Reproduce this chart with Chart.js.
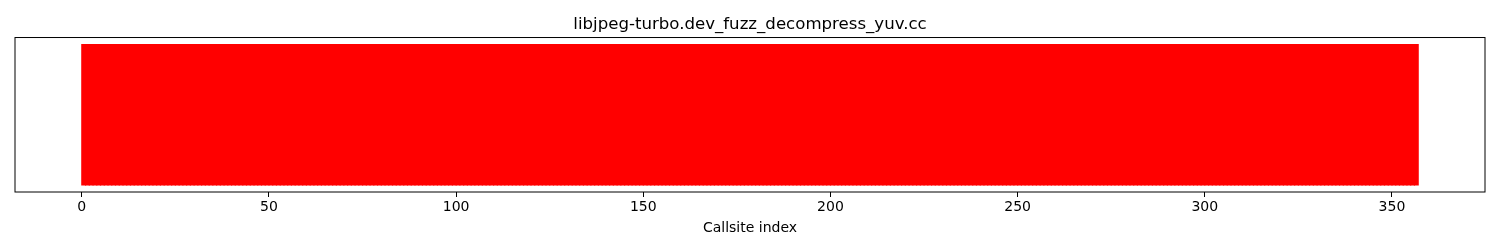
<!DOCTYPE html>
<html>
<head>
<meta charset="utf-8">
<script src="https://cdn.jsdelivr.net/npm/chart.js@4/dist/chart.umd.min.js"></script>
<style>
  html, body { margin: 0; padding: 0; background: #fff; }
  #wrap { width: 1500px; height: 250px; }
</style>
</head>
<body>
<div id="wrap"><canvas id="chart" width="1500" height="250"></canvas></div>
<script>
// one entry per callsite: 1 = reached
var reached = [
  1,1,1,1,1,1,1,1,1,1,1,1,1,1,1,1,1,1,1,1,1,1,1,1,1,1,1,1,1,1,1,1,1,1,1,1,1,1,1,1,
  1,1,1,1,1,1,1,1,1,1,1,1,1,1,1,1,1,1,1,1,1,1,1,1,1,1,1,1,1,1,1,1,1,1,1,1,1,1,1,1,
  1,1,1,1,1,1,1,1,1,1,1,1,1,1,1,1,1,1,1,1,1,1,1,1,1,1,1,1,1,1,1,1,1,1,1,1,1,1,1,1,
  1,1,1,1,1,1,1,1,1,1,1,1,1,1,1,1,1,1,1,1,1,1,1,1,1,1,1,1,1,1,1,1,1,1,1,1,1,1,1,1,
  1,1,1,1,1,1,1,1,1,1,1,1,1,1,1,1,1,1,1,1,1,1,1,1,1,1,1,1,1,1,1,1,1,1,1,1,1,1,1,1,
  1,1,1,1,1,1,1,1,1,1,1,1,1,1,1,1,1,1,1,1,1,1,1,1,1,1,1,1,1,1,1,1,1,1,1,1,1,1,1,1,
  1,1,1,1,1,1,1,1,1,1,1,1,1,1,1,1,1,1,1,1,1,1,1,1,1,1,1,1,1,1,1,1,1,1,1,1,1,1,1,1,
  1,1,1,1,1,1,1,1,1,1,1,1,1,1,1,1,1,1,1,1,1,1,1,1,1,1,1,1,1,1,1,1,1,1,1,1,1,1,1,1,
  1,1,1,1,1,1,1,1,1,1,1,1,1,1,1,1,1,1,1,1,1,1,1,1,1,1,1,1,1,1,1,1,1,1,1,1,1
];
var xTicks = [0, 50, 100, 150, 200, 250, 300, 350];
var titleText = 'libjpeg-turbo.dev_fuzz_decompress_yuv.cc';
var xLabel = 'Callsite index';

var points = reached.map(function (v, i) {
    return { x: i + 0.5, y: v };
});

// axes frame on all four sides, like matplotlib
var frame = {
    id: 'frame',
    afterDraw: function (chart) {
        var a = chart.chartArea, ctx = chart.ctx;
        ctx.save();
        ctx.strokeStyle = '#000';
        ctx.lineWidth = 1;
        ctx.strokeRect(a.left, a.top, a.right - a.left, a.bottom - a.top);
        ctx.restore();
    }
};

var font = "'DejaVu Sans', sans-serif";

new Chart(document.getElementById('chart'), {
    type: 'bar',
    data: {
        datasets: [{
            data: points,
            backgroundColor: '#ff0000',
            borderWidth: 0,
            inflateAmount: 0.6,
            barPercentage: 1,
            categoryPercentage: 1
        }]
    },
    options: {
        responsive: false,
        animation: false,
        layout: { padding: { left: 15, right: 15, top: 0, bottom: 0 } },
        plugins: {
            legend: { display: false },
            tooltip: { enabled: false },
            title: {
                display: true,
                text: titleText,
                color: '#000',
                font: { family: font, size: 16.6, weight: 'normal' },
                padding: { top: 14.5, bottom: 3.1 }
            }
        },
        scales: {
            x: {
                type: 'linear',
                offset: false,
                min: -17.85,
                max: 374.85,
                afterBuildTicks: function (s) {
                    s.ticks = xTicks.map(function (v) { return { value: v }; });
                },
                afterFit: function (s) { s.height = 58; },
                grid: {
                    offset: false,
                    drawOnChartArea: false,
                    drawTicks: true,
                    tickLength: 5,
                    color: '#000'
                },
                border: { display: false },
                ticks: {
                    color: '#000',
                    padding: 2,
                    maxRotation: 0,
                    font: { family: font, size: 14 }
                },
                title: {
                    display: true,
                    text: xLabel,
                    color: '#000',
                    font: { family: font, size: 14 },
                    padding: { top: 2, bottom: 13 }
                }
            },
            y: {
                display: false,
                min: -0.05,
                max: 1.05
            }
        }
    },
    plugins: [frame]
});
</script>
</body>
</html>
